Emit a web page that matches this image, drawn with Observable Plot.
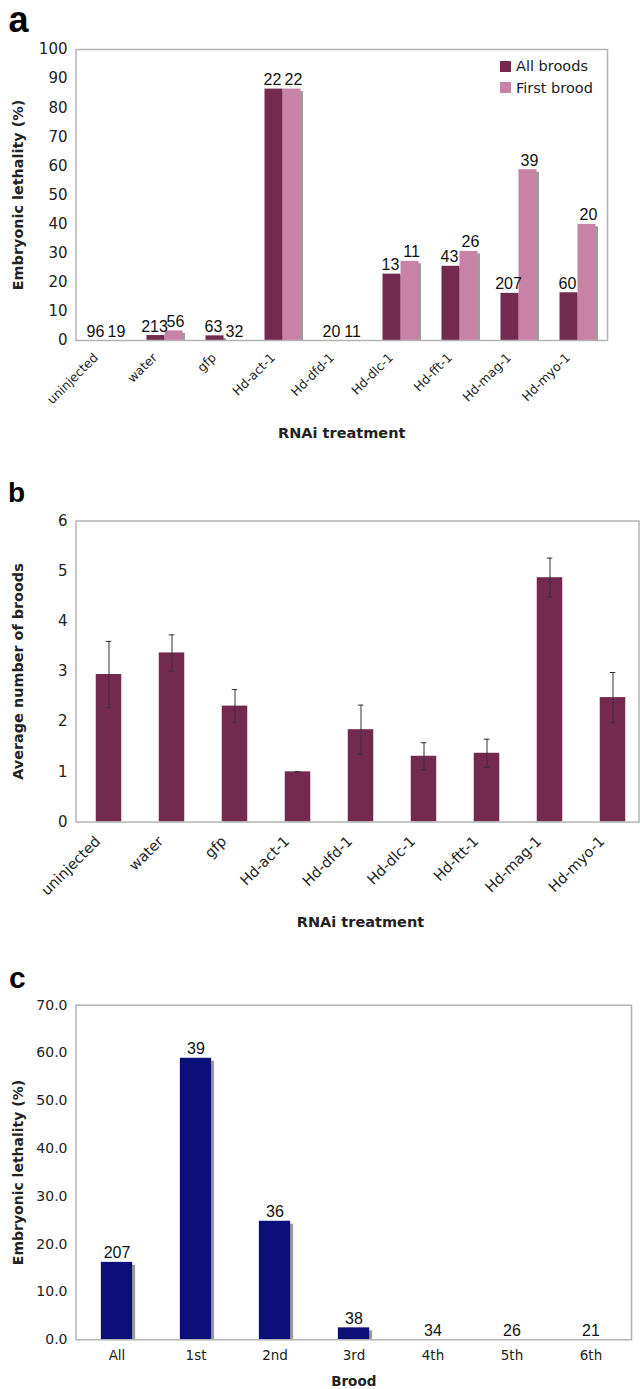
<!DOCTYPE html>
<html>
<head>
<meta charset="utf-8">
<script src="https://cdn.jsdelivr.net/npm/d3@7"></script>
<script src="https://cdn.jsdelivr.net/npm/@observablehq/plot@0.6"></script>
<style>
  body { margin: 0; background: #fff; }
  #wrap { position: relative; width: 640px; height: 1389px; overflow: hidden; background: #fff; }
  .panel { position: absolute; left: 0; }
  .letter { position: absolute; font-family: "Liberation Sans", Arial, sans-serif; font-weight: bold; line-height: 1; color: #000; }
  .leg { position: absolute; font-family: "DejaVu Sans", sans-serif; font-size: 14.5px; line-height: 1; color: #222; white-space: nowrap; }
  .sw { position: absolute; width: 11px; height: 11px; }
</style>
</head>
<body>
<div id="wrap"></div>
<script>
// ---------- Panel a data ----------
const treatmentsA = ["uninjected", "water", "gfp", "Hd-act-1", "Hd-dfd-1", "Hd-dlc-1", "Hd-fft-1", "Hd-mag-1", "Hd-myo-1"];
const seriesNames = ["All broods", "First brood"];
const lethalityAll = [0, 1.7, 1.6, 86.4, 0, 22.8, 25.5, 16.2, 16.4];
const lethalityFirst = [0, 3.3, 0, 86.4, 0, 27.2, 30.6, 58.7, 39.9];
const nAll = [96, 213, 63, 22, 20, 13, 43, 207, 60];
const nFirst = [19, 56, 32, 22, 11, 11, 26, 39, 20];
const yTicksA = [0, 10, 20, 30, 40, 50, 60, 70, 80, 90, 100];

// ---------- Panel b data ----------
const treatmentsB = ["uninjected", "water", "gfp", "Hd-act-1", "Hd-dfd-1", "Hd-dlc-1", "Hd-ftt-1", "Hd-mag-1", "Hd-myo-1"];
const broodsMean = [2.94, 3.37, 2.31, 1.0, 1.84, 1.31, 1.37, 4.87, 2.48];
const broodsErr = [0.66, 0.36, 0.33, 0.0, 0.49, 0.27, 0.28, 0.39, 0.50];
const yTicksB = [0, 1, 2, 3, 4, 5, 6];

// ---------- Panel c data ----------
const broods = ["All", "1st", "2nd", "3rd", "4th", "5th", "6th"];
const magLethality = [16.2, 58.9, 24.8, 2.5, 0, 0, 0];
const magN = [207, 39, 36, 38, 34, 26, 21];
const yTicksC = [0, 10, 20, 30, 40, 50, 60, 70];

// ---------- styles ----------
const colAll = "#74294f";
const colFirst = "#c882a5";
const colNavy = "#0c0f7a";
const shadow = "#9c9c9c";
const frameCol = "#b4b4b4";
const tickFont = "DejaVu Sans, sans-serif";
const numFont = "Liberation Sans, Arial, sans-serif";

const wrap = document.getElementById("wrap");
function addPanel(top, svg) {
  const d = document.createElement("div");
  d.className = "panel";
  d.style.top = top + "px";
  d.appendChild(svg);
  wrap.appendChild(d);
}
function addLetter(ch, left, top, size) {
  const d = document.createElement("div");
  d.className = "letter";
  d.textContent = ch;
  d.style.left = left + "px";
  d.style.top = top + "px";
  d.style.fontSize = size + "px";
  wrap.appendChild(d);
}
function yTitle(label, size) {
  return Plot.text([label], {text: d => d, frameAnchor: "left", textAnchor: "middle", lineAnchor: "middle", rotate: -90, dx: -57.5, fontSize: size, fontWeight: "bold", fontFamily: tickFont, fill: "#222"});
}
function xTitle(label, size, dy) {
  return Plot.text([label], {text: d => d, frameAnchor: "bottom", textAnchor: "middle", lineAnchor: "middle", dy, fontSize: size, fontWeight: "bold", fontFamily: tickFont, fill: "#222"});
}

// ---------- Panel a ----------
const rowsAll = treatmentsA.map((t, i) => ({t, v: lethalityAll[i], n: nAll[i], s: seriesNames[0]}));
const rowsFirst = treatmentsA.map((t, i) => ({t, v: lethalityFirst[i], n: nFirst[i], s: seriesNames[1]}));

const plotA = Plot.plot({
  width: 640, height: 470,
  marginTop: 49, marginBottom: 130, marginLeft: 75.5, marginRight: 33,
  x: {domain: treatmentsA, padding: 0, axis: null},
  y: {domain: [0, 100], axis: null},
  style: {background: "transparent", overflow: "visible"},
  marks: [
    Plot.barY(rowsAll, {x: "t", y: "v", fill: shadow, insetLeft: 11.5, insetRight: 29.5, insetTop: 2.5, dx: 2.5}),
    Plot.barY(rowsFirst, {x: "t", y: "v", fill: shadow, insetLeft: 29.5, insetRight: 11.5, insetTop: 2.5, dx: 2.5}),
    Plot.barY(rowsAll, {x: "t", y: "v", fill: colAll, insetLeft: 11.5, insetRight: 29.5}),
    Plot.barY(rowsFirst, {x: "t", y: "v", fill: colFirst, insetLeft: 29.5, insetRight: 11.5}),
    Plot.text(rowsAll, {x: "t", y: "v", text: "n", dx: -10.5, dy: -4, lineAnchor: "bottom", fontSize: 16, fontFamily: numFont, fill: "#111"}),
    Plot.text(rowsFirst, {x: "t", y: "v", text: "n", dx: 10.5, dy: -4, lineAnchor: "bottom", fontSize: 16, fontFamily: numFont, fill: "#111"}),
    Plot.frame({stroke: frameCol, strokeWidth: 1.5}),
    Plot.axisY({ticks: yTicksA, tickFormat: d3.format("d"), tickSize: 0, tickPadding: 8.5, fontSize: 15, fontFamily: tickFont, label: null, color: "#222"}),
    Plot.axisX({tickRotate: -45, tickSize: 0, tickPadding: 0, dx: -10, dy: 15, fontSize: 12.5, fontFamily: tickFont, label: null, color: "#222"}),
    xTitle("RNAi treatment", 14.5, 93),
    yTitle("Embryonic lethality (%)", 14.4)
  ]
});
addPanel(0, plotA);
addLetter("a", 8.5, 1.5, 36);

// legend for panel a
[[seriesNames[0], colAll, 60.7], [seriesNames[1], colFirst, 82]].forEach(([name, col, y]) => {
  const sw = document.createElement("div");
  sw.className = "sw";
  sw.style.left = "500px"; sw.style.top = y + "px"; sw.style.background = col;
  wrap.appendChild(sw);
  const t = document.createElement("div");
  t.className = "leg";
  t.textContent = name;
  t.style.left = "516px"; t.style.top = (y - 1.5) + "px";
  wrap.appendChild(t);
});

// ---------- Panel b ----------
const rowsB = treatmentsB.map((t, i) => ({t, v: broodsMean[i], lo: broodsMean[i] - broodsErr[i], hi: broodsMean[i] + broodsErr[i]}));
const plotB = Plot.plot({
  width: 640, height: 490,
  marginTop: 50.5, marginBottom: 138.5, marginLeft: 75.5, marginRight: 1.5,
  x: {domain: treatmentsB, padding: 0, range: [75.5, 645], axis: null},
  y: {domain: [0, 6], axis: null},
  style: {background: "transparent", overflow: "visible"},
  marks: [
    Plot.barY(rowsB, {x: "t", y: "v", fill: colAll, insetLeft: 18.75, insetRight: 18.75}),
    Plot.ruleX(rowsB, {x: "t", y1: "lo", y2: "hi", stroke: "#333", strokeWidth: 1}),
    Plot.tickY(rowsB, {x: "t", y: "hi", stroke: "#333", strokeWidth: 1, inset: 28.7}),
    Plot.tickY(rowsB, {x: "t", y: "lo", stroke: "#333", strokeWidth: 1, inset: 28.7}),
    Plot.frame({stroke: frameCol, strokeWidth: 1.5}),
    Plot.axisY({ticks: yTicksB, tickFormat: d3.format("d"), tickSize: 0, tickPadding: 8.5, fontSize: 15, fontFamily: tickFont, label: null, color: "#222"}),
    Plot.axisX({tickRotate: -45, tickSize: 0, tickPadding: 0, dx: -11, dy: 17, fontSize: 14.5, fontFamily: tickFont, label: null, color: "#222"}),
    Plot.text(["RNAi treatment"], {text: d => d, frameAnchor: "bottom-left", textAnchor: "middle", lineAnchor: "middle", dx: 284.5, dy: 100, fontSize: 14.5, fontWeight: "bold", fontFamily: tickFont, fill: "#222"}),
    yTitle("Average number of broods", 14.4)
  ]
});
addPanel(470, plotB);
addLetter("b", 8, 479.3, 28);

// ---------- Panel c ----------
const rowsC = broods.map((b, i) => ({b, v: magLethality[i], n: magN[i]}));
const plotC = Plot.plot({
  width: 640, height: 429,
  marginTop: 44.7, marginBottom: 49.7, marginLeft: 75.5, marginRight: 9,
  x: {domain: broods, padding: 0, axis: null},
  y: {domain: [0, 70], axis: null},
  style: {background: "transparent", overflow: "visible"},
  marks: [
    Plot.barY(rowsC, {x: "b", y: "v", fill: shadow, insetLeft: 23.85, insetRight: 23.85, insetTop: 3, dx: 3}),
    Plot.barY(rowsC, {x: "b", y: "v", fill: colNavy, insetLeft: 23.85, insetRight: 23.85}),
    Plot.text(rowsC, {x: "b", y: "v", text: "n", dy: -4, lineAnchor: "bottom", fontSize: 16, fontFamily: numFont, fill: "#111"}),
    Plot.frame({stroke: frameCol, strokeWidth: 1.5}),
    Plot.axisY({ticks: yTicksC, tickFormat: d3.format(".1f"), tickSize: 0, tickPadding: 8.5, fontSize: 14, fontFamily: tickFont, label: null, color: "#222"}),
    Plot.axisX({tickSize: 0, tickPadding: 11, fontSize: 13.5, fontFamily: tickFont, label: null, color: "#222"}),
    xTitle("Brood", 13.5, 41.7),
    yTitle("Embryonic lethality (%)", 14)
  ]
});
addPanel(960, plotC);
addLetter("c", 9, 962.6, 30);
</script>
</body>
</html>
